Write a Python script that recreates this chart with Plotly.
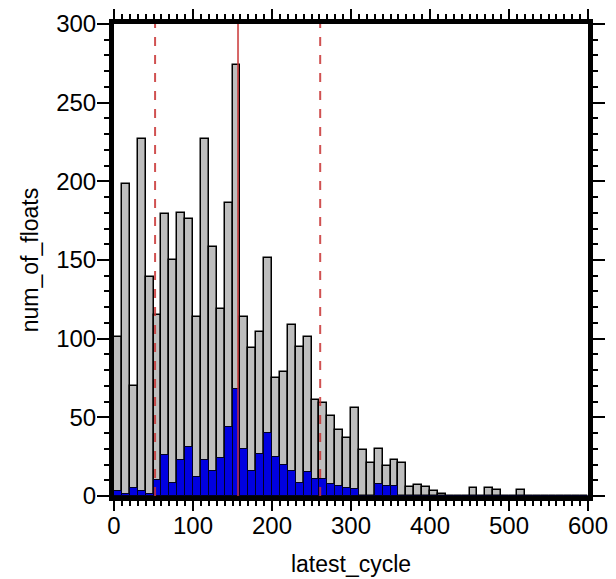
import plotly.graph_objects as go

bin_width = 10
bin_starts = list(range(0, 600, 10))
total_counts = [101, 198, 70, 227, 139, 115, 179, 150, 180, 176,
                114, 227, 158, 119, 186, 274, 114, 94, 104, 151,
                75, 79, 109, 95, 101, 61, 59, 51, 42, 37,
                56, 29, 21, 30, 19, 23, 21, 6, 7, 6,
                3, 1, 0, 0, 0, 5, 0, 5, 4, 0,
                0, 4, 0, 0, 0, 0, 0, 0, 0, 0]
subset_counts = [3, 1.5, 5, 3, 1, 10, 26, 8, 23, 31,
                 12, 23, 16, 24, 44, 68, 30, 16, 27, 40,
                 25, 20, 16, 8, 15, 11, 11, 7.5, 6.4, 5.3,
                 4.2, 0, 0, 7.4, 6.4, 6.4, 0, 0, 0, 0,
                 0, 0, 0, 0, 0, 0, 0, 0, 0, 0,
                 0, 0, 0, 0, 0, 0, 0, 0, 0, 0]
mean_line = 157
std_lines = [52, 261]

centers = [s + bin_width / 2 for s in bin_starts]

fig = go.Figure()
fig.add_trace(go.Bar(x=centers, y=total_counts, width=bin_width,
                     marker=dict(color="#bebebe", line=dict(color="black", width=1.5)),
                     showlegend=False))
fig.add_trace(go.Bar(x=centers, y=subset_counts, width=bin_width,
                     marker=dict(color="#0000e0", line=dict(color="#000022", width=1)),
                     showlegend=False))

for xv in std_lines:
    fig.add_shape(type="line", xref="x", yref="paper", x0=xv, x1=xv, y0=0, y1=1,
                  line=dict(color="rgba(200,50,50,0.85)", width=2, dash="dash"), layer="above")
fig.add_shape(type="line", xref="x", yref="paper", x0=mean_line, x1=mean_line, y0=0, y1=1,
              line=dict(color="rgba(200,50,50,0.75)", width=2), layer="above")

fam = "Liberation Sans, Arial, sans-serif"
tick_font = dict(family=fam, size=24, color="black")
title_font = dict(family=fam, size=23, color="black")
fig.update_layout(
    width=616, height=579,
    margin=dict(l=114, r=28, t=24, b=83),
    barmode="overlay", bargap=0,
    plot_bgcolor="white", paper_bgcolor="white",
    font=tick_font,
)
fig.update_xaxes(range=[0, 600], dtick=100, tick0=0, automargin=False,
                 showline=True, linewidth=5, linecolor="black", mirror="ticks",
                 ticks="outside", ticklen=10, tickwidth=2, tickcolor="black",
                 minor=dict(dtick=10, ticks="outside", ticklen=5, tickwidth=2, tickcolor="black"),
                 showgrid=False, zeroline=False, ticklabelstandoff=-6,
                 title=dict(text="latest_cycle", font=title_font, standoff=20),
                 tickfont=tick_font)
fig.update_yaxes(range=[0, 300], dtick=50, tick0=0, automargin=False,
                 showline=True, linewidth=5, linecolor="black", mirror="ticks",
                 ticks="outside", ticklen=12, tickwidth=2, tickcolor="black",
                 minor=dict(dtick=10, ticks="outside", ticklen=5, tickwidth=2, tickcolor="black"),
                 showgrid=False, zeroline=False, ticklabelstandoff=-4,
                 title=dict(text="num_of_floats", font=title_font, standoff=13),
                 tickfont=tick_font)

fig.write_html("out.html", config={"displayModeBar": False},
               post_script="document.body.style.margin='0px';")
